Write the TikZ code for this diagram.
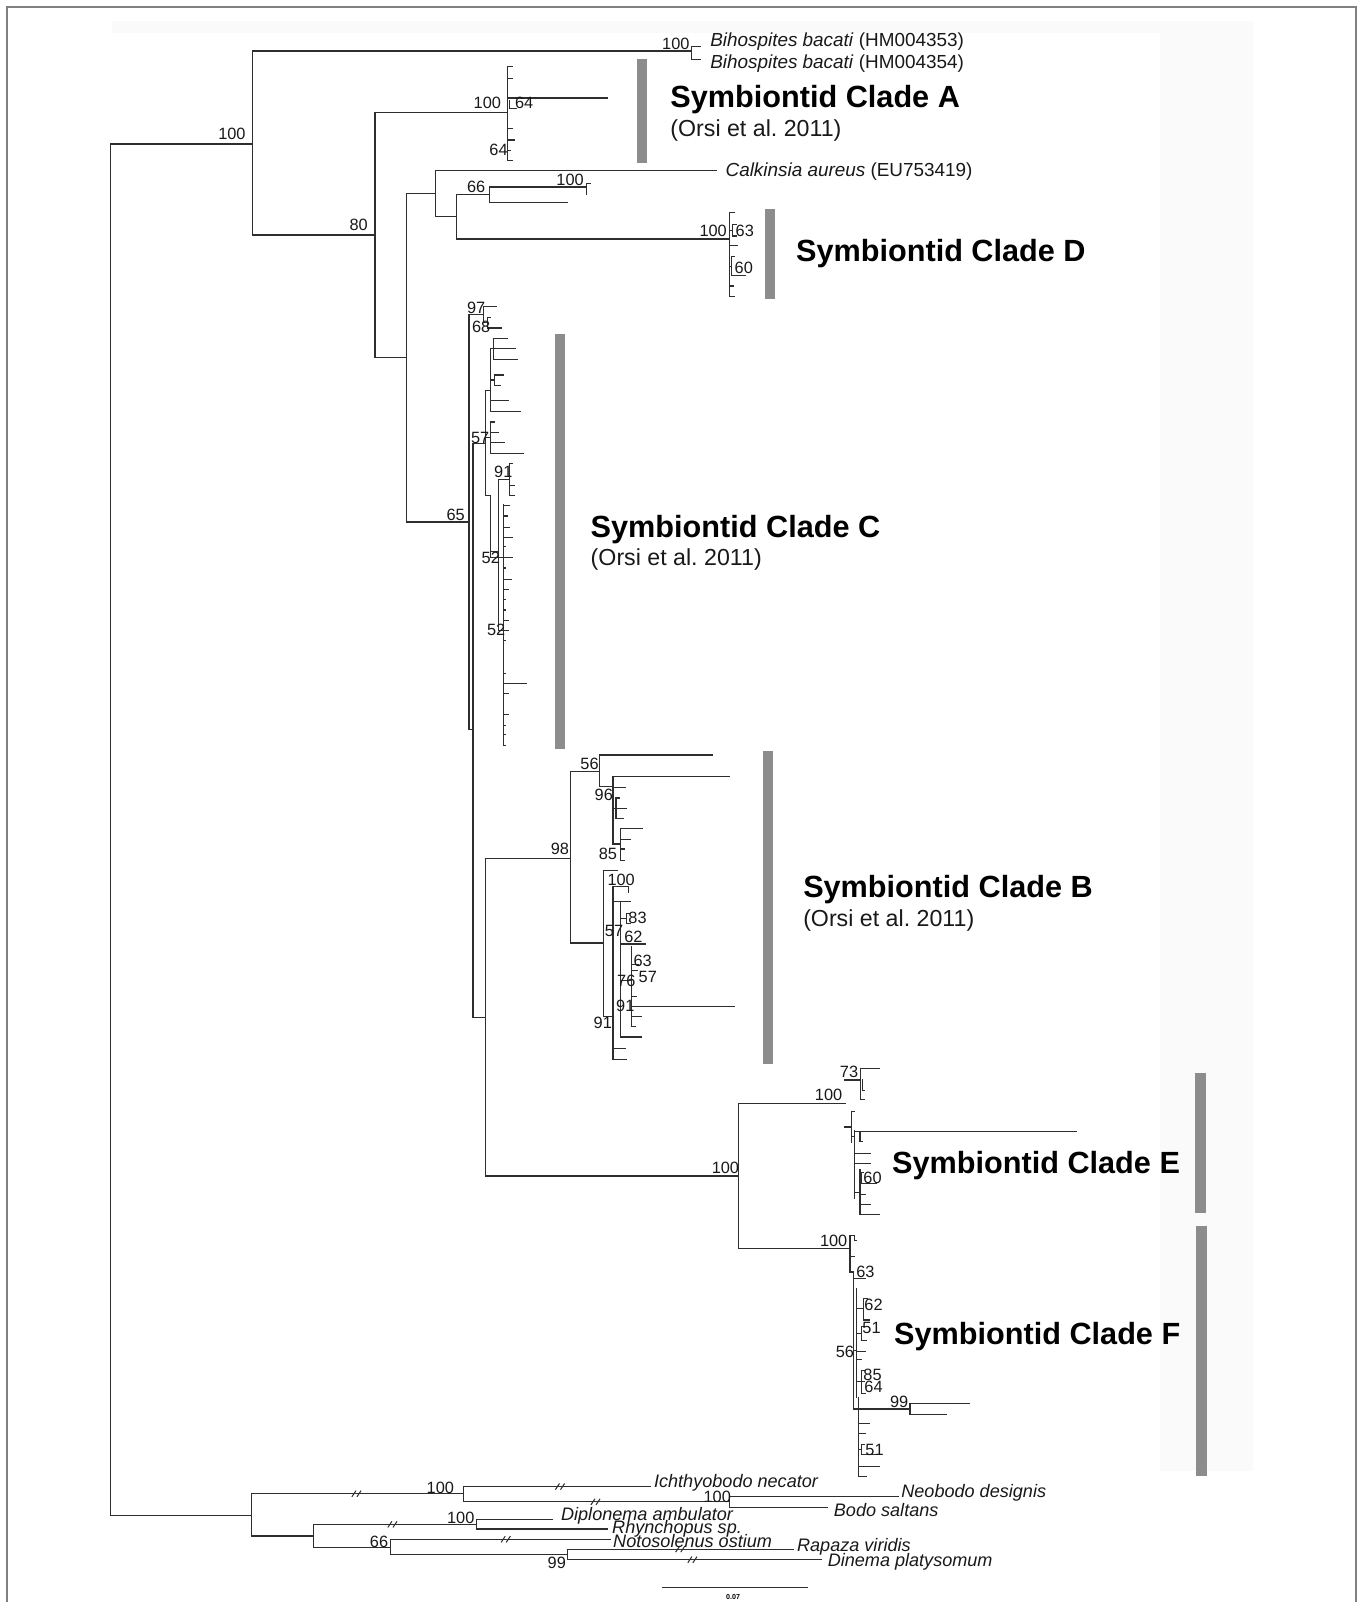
\documentclass[tikz,border=0pt]{standalone}
\usepackage{fontspec}
\setmainfont{Liberation Sans}
\frenchspacing
\begin{document}
\begin{tikzpicture}[x=1pt,y=-1pt,
  tk/.style={line width=1.15pt, draw=black!82, line cap=rect},
  cladebar/.style={fill=black!45, draw=none},
  sup/.style={font=\fontsize{16}{16}\selectfont, inner sep=0pt, text=black!90},
  sp/.style={font=\fontsize{18.5}{19}\selectfont, inner sep=0pt, anchor=west, text=black!90},
  og/.style={font=\fontsize{17.7}{18}\selectfont\itshape, inner sep=0pt, anchor=west, text=black!90},
  ttl/.style={font=\fontsize{30}{30}\selectfont\bfseries, inner sep=0pt, anchor=west},
  orsi/.style={font=\fontsize{22.7}{23}\selectfont, inner sep=0pt, anchor=west, text=black!90},
  brk/.pic={\draw[line width=1pt, draw=black!82] (-5,3)--(-1,-3) (0,3)--(4,-3);},
]
\useasboundingbox (0,0) rectangle (1334,1568);
\fill[white] (0,0) rectangle (1334,1568);
\fill[black!2] (110,21) rectangle (1135,32);
\fill[black!2] (1135,21) rectangle (1226,1440);
\draw[black!50, line width=2pt] (7,1570) -- (7,7) -- (1327,7) -- (1327,1570);

% clade bars
\fill[cladebar] (623,58) rectangle (633,160);
\fill[cladebar] (749,205) rectangle (759,293);
\fill[cladebar] (543,327) rectangle (553,733);
\fill[cladebar] (747,735) rectangle (757,1041);
\fill[cladebar] (1170,1050) rectangle (1180,1187);
\fill[cladebar] (1171,1200) rectangle (1181,1445);

% main internal nodes
\coordinate (R) at (108,812);
\coordinate (I) at (247,141);
\coordinate (O) at (246,1483);
\coordinate (Bh) at (677,50);
\coordinate (N80) at (367,230);
\coordinate (CA) at (497,110);
\coordinate (N398) at (398,350);
\coordinate (N426) at (426,189.5);
\coordinate (Calk) at (701,167);
\coordinate (N447) at (447,212);
\coordinate (N479) at (479,190);
\coordinate (t479a) at (574,183);
\coordinate (t479b) at (555,198);
\coordinate (CD) at (714,234);
\coordinate (N65) at (459,511);
\coordinate (N97) at (473,308);
\coordinate (N463) at (463,714);
\coordinate (N57) at (475,434);
\coordinate (N475) at (475,996);
\coordinate (N98) at (558,840);
\coordinate (NEF) at (723,1151);
\coordinate (N56) at (587,755);
\coordinate (NB2) at (591,923);
\coordinate (NE) at (827,1080);
\coordinate (NF) at (832,1222);

\draw[tk] (R) |- (I) (R) |- (O) (I) |- (Bh) (I) |- (N80) (N80) |- (CA)
  (N80) |- (N398) (N398) |- (N426) (N426) |- (Calk) (N426) |- (N447)
  (N447) |- (N479) (N479) |- (t479a) (N479) |- (t479b) (N447) |- (CD)
  (N398) |- (N65) (N65) |- (N97) (N65) |- (N463) (N463) |- (N57)
  (N463) |- (N475) (N475) |- (N98) (N475) |- (NEF) (N98) |- (N56)
  (N98) |- (NB2) (NEF) |- (NE) (NEF) |- (NF);

% Bihospites, small top details
\draw[tk] (677,45.5)--(677,58.5) (677,45.5)--(686,45.5) (677,58.5)--(686,58.5);
\draw[tk] (574,180)--(574,190) (574,180)--(578,180);

% clade A
\draw[tk] (497,65)--(497,157)
  (497,65)--(502,65) (497,77)--(502,77) (497,126)--(502,126) (497,157)--(502,157)
  (497,96)--(595,96)
  (499,98)--(499,106)--(505,106)
  (497,137)--(503,137) (497,147)--(500,147);

% clade D
\draw[tk] (714,208)--(714,290)
  (714,208)--(719,208) (714,290)--(719,290) (714,280)--(718,280)
  (714,226)--(717,226) (717,220)--(717,231) (717,220)--(721,220) (717,231)--(721,231)
  (714,240)--(722,240)
  (714,261)--(716,261) (716,251)--(716,270) (716,251)--(719,251) (716,270)--(730,270);

% clade C
\draw[tk] (473,300)--(473,316) (473,300)--(486,300) (473,316)--(477,316)
  (477,311)--(477,321) (477,311)--(480,311) (477,321)--(491,321);
\draw[tk] (475,382)--(475,485)
  (475,382)--(480,382) (480,341)--(480,403)
  (480,341)--(483,341) (483,331)--(483,352) (483,331)--(497,331) (483,341)--(504,341) (483,352)--(506,352)
  (480,372)--(484,372) (484,367)--(484,377) (484,367)--(493,367) (484,377)--(490,377)
  (480,392)--(498,392) (480,403)--(509,403)
  (475,428)--(480,428) (480,413)--(480,444) (480,413)--(484,413) (480,423)--(488,423)
  (480,433)--(494,433) (480,444)--(512,444)
  (475,485)--(480,485) (480,485)--(480,546) (480,546)--(493,546)
  (480,540)--(488,540) (488,469)--(488,617) (488,617)--(493,617)
  (488,469)--(499,469) (499,454)--(499,485) (499,454)--(502,454) (499,475)--(503,475) (499,485)--(503,485)
  (493,494)--(493,730);
\foreach \yy/\ee in {494.5/498.5, 505/497, 516/498.5, 526/502, 535/495, 546/502, 556/495,
  567/501, 577/497.5, 587/495, 597/495, 607.5/497.5, 617/497.5, 627/495, 659/495, 669/515,
  679/497.5, 699/497.5, 710/495, 719/495, 730/495}
  \draw[tk] (493,\yy)--(\ee,\yy);

% clade B
\draw[tk] (587,739)--(587,770) (587,739)--(697.5,739) (587,770)--(600,770)
  (600,760)--(600,826) (600,760)--(713.5,760) (600,770.5)--(611.7,770.5)
  (600,791)--(603,791) (603,781)--(603,801) (603,781)--(606,781) (603,791)--(612.7,791) (603,801)--(610,801)
  (600,826)--(607,826) (607,811)--(607,842) (607,811)--(629,811) (607,822)--(616.6,822)
  (607,831)--(611,831) (607,842)--(611,842);
\draw[tk] (591,852)--(591,995) (591,852)--(604,852) (591,995)--(600,995)
  (600,868)--(600,1037) (600,868)--(615,868)--(615,873)
  (607,882)--(607,1015) (600,882)--(617,882)
  (607,899)--(613,899) (613,894)--(613,904) (613,894)--(617,894) (613,904)--(617,904)
  (607,924)--(632,924)
  (607,960)--(618,960) (618,926)--(618,1005)
  (618,944)--(625,944) (618,950)--(624,950) (618,975)--(623,975) (618,985)--(719,985)
  (618,995)--(628,995) (618,1005)--(622,1005)
  (607,1015)--(628,1015) (600,1026)--(612,1026) (600,1037)--(613,1037);

% clade E
\draw[tk] (827,1057)--(842,1057) (842,1046)--(842,1076.5) (842,1046)--(861,1046)
  (842,1076.5)--(846,1076.5) (844,1057)--(844,1067)--(846,1067)
  (827,1103)--(833.5,1103) (833.5,1088)--(833.5,1118) (833.5,1088)--(836,1088)
  (833.5,1112)--(836.5,1112) (836.5,1107)--(836.5,1173)
  (836.5,1107.6)--(1053.7,1107.6) (841.7,1107.6)--(841.7,1117)--(844,1117)
  (836.5,1129)--(851.5,1129) (836.5,1139)--(852,1139)
  (836.5,1167)--(841.7,1167) (841.7,1145)--(841.7,1189)
  (841.7,1148)--(845,1148) (843,1148)--(843,1158)--(858,1158)
  (841.7,1169.5)--(846.7,1169.5) (841.7,1179.3)--(851.5,1179.3) (841.7,1189)--(861,1189);

% clade F
\draw[tk] (832,1209)--(832,1245) (832,1209)--(836,1209) (836,1209)--(836,1214)--(838,1214)
  (832,1230)--(836,1230)
  (832,1245)--(835,1245) (835,1245)--(835,1379) (835,1251)--(847.5,1251)
  (835,1322)--(838.4,1322) (838.4,1261)--(838.4,1368)
  (838.4,1281)--(845,1281) (845,1270.7)--(845,1292) (845,1270.7)--(849,1270.7) (845,1292)--(851,1292)
  (838.4,1305)--(843.3,1305) (843.3,1298.4)--(843.3,1312) (843.3,1298.4)--(846,1298.4) (843.3,1312)--(848,1312)
  (838.4,1323)--(846.6,1323) (838.4,1331)--(843,1331)
  (838.4,1352)--(843.3,1352) (843.3,1341)--(843.3,1364) (843.3,1341)--(846,1341)
  (843.3,1352)--(846,1352) (843.3,1364)--(847,1364)
  (835,1379)--(840,1379) (840,1368)--(840,1445)
  (840,1379)--(890.6,1379) (890.6,1373.4)--(890.6,1384.2)
  (890.6,1373.4)--(949.3,1373.4) (890.6,1384.2)--(926.5,1384.2)
  (840,1393)--(850.8,1393) (840,1403)--(847.5,1403)
  (840,1419)--(843,1419) (843,1414)--(843,1424) (843,1424)--(859,1424) (843,1414)--(846,1414)
  (840,1435)--(860.6,1435) (840,1445)--(848.5,1445);

% outgroup
\coordinate (Oa) at (453.6,1462);
\coordinate (Ich) at (636.4,1455);
\coordinate (Nb) at (714,1470);
\coordinate (Neo) at (879,1465);
\coordinate (Bod) at (810,1475.2);
\coordinate (Ob) at (307,1503.3);
\coordinate (Od) at (466,1492);
\coordinate (Dip) at (540.4,1487);
\coordinate (Rhy) at (594.4,1496.5);
\coordinate (Oe) at (382,1514.4);
\coordinate (Noto) at (597.4,1506.6);
\coordinate (Of) at (555.5,1521.7);
\coordinate (Rap) at (777,1516.2);
\coordinate (Din) at (804,1526.6);
\draw[tk] (O) |- (Oa) (Oa) |- (Ich) (Oa) |- (Nb) (Nb) |- (Neo) (Nb) |- (Bod)
  (O) |- (Ob) (Ob) |- (Od) (Od) |- (Dip) (Od) |- (Rhy) (Ob) |- (Oe)
  (Oe) |- (Noto) (Oe) |- (Of) (Of) |- (Rap) (Of) |- (Din);
\pic at (349.4,1462) {brk};
\pic at (548.6,1455) {brk};
\pic at (583.3,1470) {brk};
\pic at (384.6,1492) {brk};
\pic at (495.5,1506.6) {brk};
\pic at (666.3,1516.2) {brk};
\pic at (678.2,1526.6) {brk};

% scale bar
\coordinate (sbA) at (648.4,1554);
\coordinate (sbB) at (790.4,1554);
\draw[tk] (sbA) -- (sbB);
\node[font=\fontsize{7}{7}\selectfont\bfseries, inner sep=0pt] (sbl) at (717.5,1563) {0.07};

% support values
\foreach \xx/\yy/\tt [count=\i] in {661.5/43/100, 227/131/100, 351/220/80, 477/101/100,
  513/101/64, 488/147/64, 466/183/66, 558/176/100, 698/226/100, 729/226/63, 728/262/60,
  466/301/97, 471/320/68, 470/429/57, 492.6/461.6/91, 446/504/65, 480.4/546.5/52,
  485.6/616.7/52, 577/748/56, 591/778/96, 548/831/98, 595/836/85, 608/861/100,
  624/898/83, 601/911/57, 620/917/62, 629/940/63, 634/956/57, 613/960/76, 612/985/91,
  590/1001/91, 831/1049/73, 811/1072/100, 710/1143/100, 854/1153/60, 816/1215/100,
  847/1245/63, 855/1277/62, 853/1300/51, 827/1323/56, 854/1346/85, 855/1357/64,
  880/1372/99, 856/1419/51, 431/1456/100, 702/1465/100, 451/1486/100, 371/1509/66,
  545/1530/99}
  \node[sup] (sup\i) at (\xx,\yy) {\tt};

% taxon labels
\node[sp] (bh1) at (695,41) {\textit{Bihospites bacati} (HM004353)};
\node[sp] (bh2) at (695,62) {\textit{Bihospites bacati} (HM004354)};
\node[sp] (calk) at (710,168) {\textit{Calkinsia aureus} (EU753419)};
\node[og] (ich) at (640,1451.5) {Ichthyobodo necator};
\node[og] (neo) at (882,1461.5) {Neobodo designis};
\node[og] (bod) at (816,1477.5) {Bodo saltans};
\node[og] (dip) at (549,1484) {Diplonema ambulator};
\node[og] (rhy) at (599,1496) {Rhynchopus sp.};
\node[og] (noto) at (600,1508.5) {Notosolenus ostium};
\node[og] (rap) at (780,1514.4) {Rapaza viridis};
\node[og] (din) at (810,1528.4) {Dinema platysomum};

% clade titles
\node[ttl] (tA) at (656,97.5) {Symbiontid Clade A};
\node[orsi] (oA) at (656,128) {(Orsi et al. 2011)};
\node[ttl] (tD) at (779,248) {Symbiontid Clade D};
\node[ttl] (tC) at (578,518) {Symbiontid Clade C};
\node[orsi] (oC) at (578,548) {(Orsi et al. 2011)};
\node[ttl] (tB) at (786,871) {Symbiontid Clade B};
\node[orsi] (oB) at (786,901) {(Orsi et al. 2011)};
\node[ttl] (tE) at (873,1141) {Symbiontid Clade E};
\node[ttl] (tF) at (875,1308) {Symbiontid Clade F};
\end{tikzpicture}
\end{document}
